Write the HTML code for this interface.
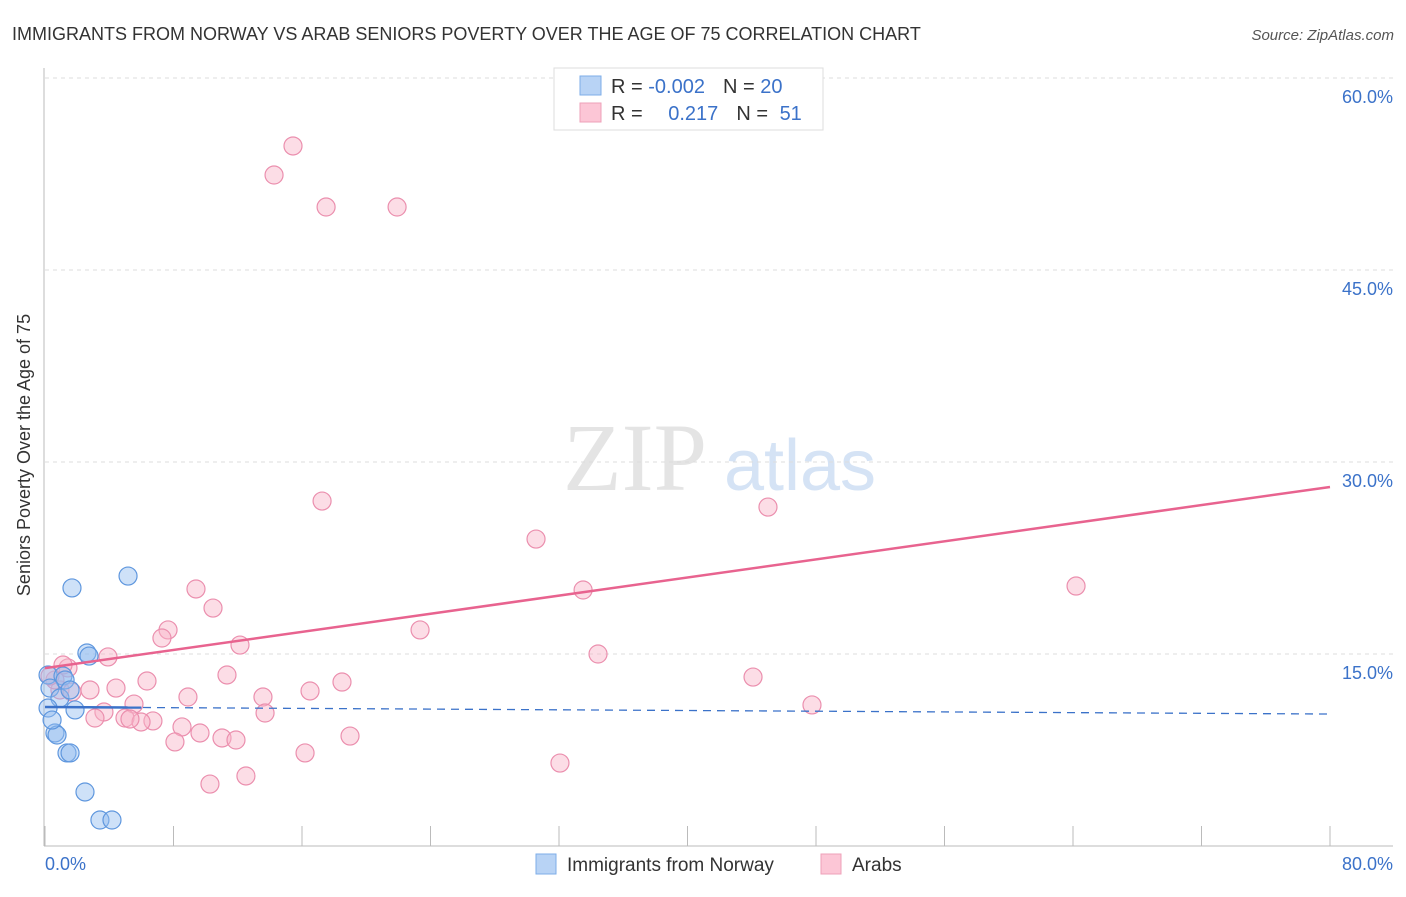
<!DOCTYPE html>
<html><head><meta charset="utf-8"><style>
body{margin:0;background:#fff;font-family:"Liberation Sans",sans-serif}
</style></head><body>
<svg width="1406" height="892" xmlns="http://www.w3.org/2000/svg" font-family="Liberation Sans, sans-serif">
<text x="12" y="40" font-size="18" fill="#333">IMMIGRANTS FROM NORWAY VS ARAB SENIORS POVERTY OVER THE AGE OF 75 CORRELATION CHART</text>
<text x="1394" y="40" font-size="15" fill="#555" font-style="italic" text-anchor="end">Source: ZipAtlas.com</text>
<text x="635" y="490" font-size="96" fill="#e4e4e4" text-anchor="middle" font-family="Liberation Serif, serif">ZIP</text>
<text x="800" y="490" font-size="72" fill="#d5e3f5" text-anchor="middle">atlas</text>
<g id="grid"></g>
<g id="axes"></g>
<g id="marks"></g>
<text x="30" y="455" font-size="18" fill="#333" text-anchor="middle" transform="rotate(-90 30 455)">Seniors Poverty Over the Age of 75</text>
<g>
<rect x="554" y="68" width="269" height="62" fill="#fff" stroke="#ddd"/>
<rect x="580" y="76" width="21" height="19" fill="#b8d3f5" stroke="#7eaee8"/>
<rect x="580" y="103" width="21" height="19" fill="#fcc6d6" stroke="#eea0b8"/>
<text x="611" y="93" font-size="20" fill="#333">R = <tspan fill="#3b72c9">-0.002</tspan><tspan dx="18">N = </tspan><tspan fill="#3b72c9">20</tspan></text>
<text x="611" y="120" font-size="20" fill="#333">R = <tspan fill="#3b72c9" dx="20">0.217</tspan><tspan dx="18">N = </tspan><tspan fill="#3b72c9" dx="6">51</tspan></text>
</g>
<g>
<rect x="536" y="854" width="20" height="20" fill="#b8d3f5" stroke="#7eaee8"/>
<text x="567" y="871" font-size="19" fill="#333">Immigrants from Norway</text>
<rect x="821" y="854" width="20" height="20" fill="#fcc6d6" stroke="#eea0b8"/>
<text x="852" y="871" font-size="19" fill="#333">Arabs</text>
</g>
</svg>
<script>
const yTicks=[15,30,45,60];
const yTickLabels=["15.0%","30.0%","45.0%","60.0%"];
const xTickValues=[0,8,16,24,32,40,48,56,64,72,80];
const norwayX=[1.68,5.17,2.61,2.74,0.19,1.12,1.25,0.31,0.93,1.87,0.19,0.62,0.75,1.37,1.56,2.49,3.42,4.17,0.44,1.56];
const norwayY=[20.16,21.09,15.08,14.84,13.36,13.28,12.97,12.34,11.56,10.63,10.78,8.83,8.67,7.27,7.27,4.22,2.03,2.03,9.84,12.19];
const arabX=[15.44,14.26,17.50,21.92,17.25,45.01,30.57,64.19,33.50,9.40,10.46,7.66,7.28,23.35,12.14,3.92,34.43,1.43,11.33,6.35,44.08,18.49,4.42,2.80,8.90,13.57,16.50,47.75,5.54,13.70,3.67,3.11,4.98,6.72,5.98,5.29,8.53,9.65,11.02,11.89,8.09,18.99,16.19,32.06,12.51,10.27,0.93,0.62,1.68,1.12,0.31];
const arabY=[54.69,52.42,49.92,49.92,26.95,26.48,23.98,20.31,20.0,20.08,18.59,16.88,16.25,16.88,15.70,14.77,15.0,13.91,13.36,12.89,13.2,12.81,12.34,12.19,11.64,11.64,12.11,11.02,11.09,10.39,10.47,10.0,10.0,9.77,9.69,9.92,9.30,8.83,8.44,8.28,8.13,8.59,7.27,6.48,5.47,4.84,12.19,12.97,12.03,14.14,13.28];
const norwayTrend=[10.86,10.31];
const arabTrend=[13.9,28.05];
const NS="http://www.w3.org/2000/svg";
const X=v=>45+v/80*1285, Y=v=>846-v/15*192;
function mk(tag,attrs,parent){const e=document.createElementNS(NS,tag);for(const k in attrs)e.setAttribute(k,attrs[k]);document.getElementById(parent).appendChild(e);return e;}
yTicks.forEach((t,i)=>{
  const g=mk('line',{x1:45,x2:1393,y1:Y(t),y2:Y(t),stroke:'#ddd','stroke-dasharray':'4,4'},'grid');
  
  
  const l=mk('text',{x:1393,y:Y(t)+25,'font-size':18,fill:'#3b72c9','text-anchor':'end'},'axes');
  l.textContent=yTickLabels[i];
  
  
});
let a=mk('line',{x1:44,x2:44,y1:68,y2:846,stroke:'#bbb'},'axes');


a=mk('line',{x1:44,x2:1393,y1:846,y2:846,stroke:'#bbb'},'axes');


xTickValues.forEach(t=>{
  const e=mk('line',{x1:X(t),x2:X(t),y1:826,y2:846,stroke:'#bbb'},'axes');
  
  
});
let tl=mk('text',{x:45,y:870,'font-size':18,fill:'#3b72c9'},'axes');tl.textContent='0.0%';


tl=mk('text',{x:1393,y:870,'font-size':18,fill:'#3b72c9','text-anchor':'end'},'axes');tl.textContent='80.0%';


arabX.forEach((v,i)=>{
  const c=mk('circle',{cx:X(v),cy:Y(arabY[i]),r:9,fill:'rgba(248,180,200,0.45)',stroke:'#eb8fae','stroke-width':1.2},'marks');
  
  
});
norwayX.forEach((v,i)=>{
  const c=mk('circle',{cx:X(v),cy:Y(norwayY[i]),r:9,fill:'rgba(147,189,240,0.45)',stroke:'#5f97de','stroke-width':1.2},'marks');
  
  
});
let t=mk('line',{x1:X(0),x2:X(80),y1:Y(arabTrend[0]),y2:Y(arabTrend[1]),stroke:'#e8638f','stroke-width':2.5},'marks');


const nAt=v=>norwayTrend[0]+(norwayTrend[1]-norwayTrend[0])*v/80;
t=mk('line',{x1:X(0),x2:X(80),y1:Y(nAt(0)),y2:Y(nAt(80)),stroke:'#3b72c9','stroke-width':1.3,'stroke-dasharray':'8,6'},'marks');


t=mk('line',{x1:X(0),x2:X(6),y1:Y(nAt(0)),y2:Y(nAt(6)),stroke:'#3b72c9','stroke-width':2.5},'marks');


</script>
</body></html>
